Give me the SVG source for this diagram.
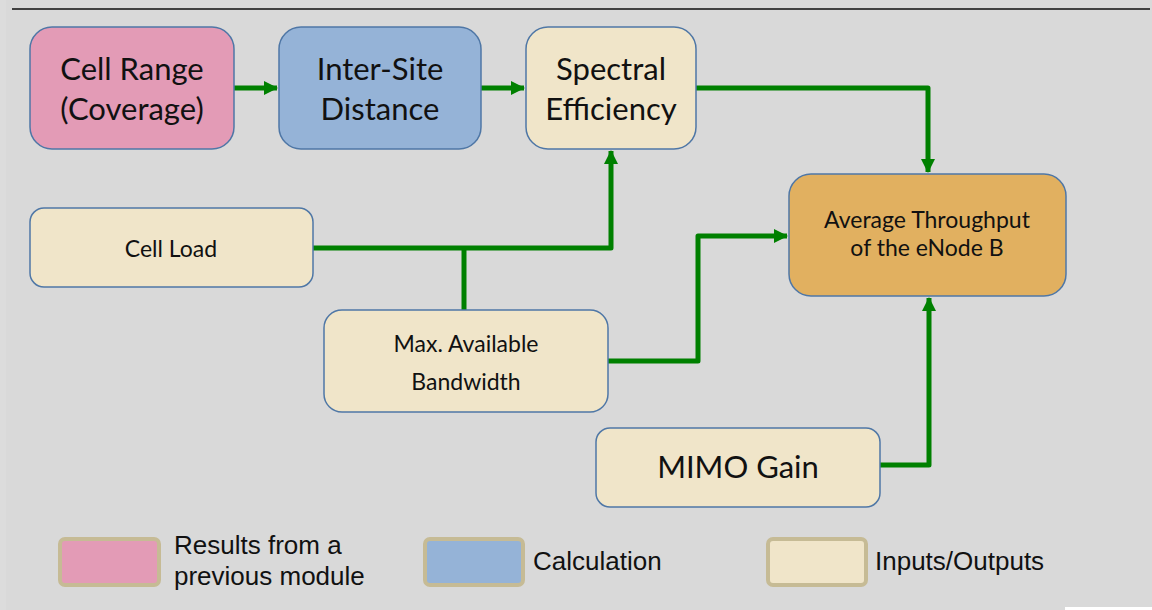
<svg xmlns="http://www.w3.org/2000/svg" width="1152" height="610" viewBox="0 0 1152 610">
<defs>
<style>
.node{stroke:#4f77a6;stroke-width:1.5}
.pink{fill:#e39bb6}
.blue{fill:#95b3d7}
.tan{fill:#f0e5c9}
.orange{fill:#e1b060}
.t{font-family:Lato,"Open Sans",sans-serif;fill:#111;text-anchor:middle}
.big{font-size:31px}
.sm{font-size:23px}
.conn{fill:none;stroke:#008000;stroke-width:5;stroke-linejoin:round}
.leg{stroke:#c6bb95;stroke-width:4}
.lt{font-family:"Liberation Sans",Arial,sans-serif;font-size:26px;fill:#111}
</style>
<marker id="ah" markerUnits="userSpaceOnUse" markerWidth="16" markerHeight="16" refX="13" refY="8" orient="auto">
<path d="M0,1 L14,8 L0,15 z" fill="#008000"/>
</marker>
</defs>
<rect x="0" y="0" width="1152" height="610" fill="#d9d9d9"/>
<rect x="0" y="0" width="6" height="610" fill="#dcdcdc"/>
<rect x="1065" y="607" width="87" height="3" fill="#ffffff"/>
<line x1="12" y1="9" x2="1150" y2="9" stroke="#404040" stroke-width="2"/>

<g id="connectors">
<path class="conn" d="M234,88 H277" marker-end="url(#ah)"/>
<path class="conn" d="M481,88 H524" marker-end="url(#ah)"/>
<path class="conn" d="M696,88 H928 V172" marker-end="url(#ah)"/>
<path class="conn" d="M313,248 H611 V151" marker-end="url(#ah)"/>
<path class="conn" d="M464,248 V310"/>
<path class="conn" d="M608,361 H698 V236 H787" marker-end="url(#ah)"/>
<path class="conn" d="M880,465 H929 V298" marker-end="url(#ah)"/>
</g>

<g id="cell-range">
<rect class="node pink" x="30" y="27" width="204" height="122" rx="22"/>
<text class="t big" x="132" y="80">Cell Range</text>
<text class="t big" x="132" y="120">(Coverage)</text>
</g>
<g id="inter-site">
<rect class="node blue" x="279" y="27" width="202" height="122" rx="22"/>
<text class="t big" x="380" y="80">Inter-Site</text>
<text class="t big" x="380" y="120">Distance</text>
</g>
<g id="spectral">
<rect class="node tan" x="526" y="27" width="170" height="122" rx="22"/>
<text class="t big" x="611" y="80">Spectral</text>
<text class="t big" x="611" y="120">Efficiency</text>
</g>
<g id="throughput">
<rect class="node orange" x="789" y="174" width="277" height="122" rx="22"/>
<text class="t sm" x="927" y="228">Average Throughput</text>
<text class="t sm" x="927" y="256">of the eNode B</text>
</g>
<g id="cell-load">
<rect class="node tan" x="30" y="208" width="283" height="79" rx="14"/>
<text class="t sm" x="171" y="257">Cell Load</text>
</g>
<g id="max-bw">
<rect class="node tan" x="324" y="310" width="284" height="102" rx="18"/>
<text class="t sm" x="466" y="352">Max. Available</text>
<text class="t sm" x="466" y="390">Bandwidth</text>
</g>
<g id="mimo">
<rect class="node tan" x="596" y="428" width="284" height="79" rx="14"/>
<text class="t big" x="738" y="478">MIMO Gain</text>
</g>

<g id="legend">
<rect class="leg pink" x="60" y="539" width="99" height="46" rx="5"/>
<text class="lt" x="174" y="554">Results from a</text>
<text class="lt" x="174" y="585">previous module</text>
<rect class="leg blue" x="425" y="539" width="98" height="46" rx="5"/>
<text class="lt" x="533" y="570">Calculation</text>
<rect class="leg tan" x="768" y="539" width="98" height="46" rx="5"/>
<text class="lt" x="875" y="570">Inputs/Outputs</text>
</g>
</svg>
